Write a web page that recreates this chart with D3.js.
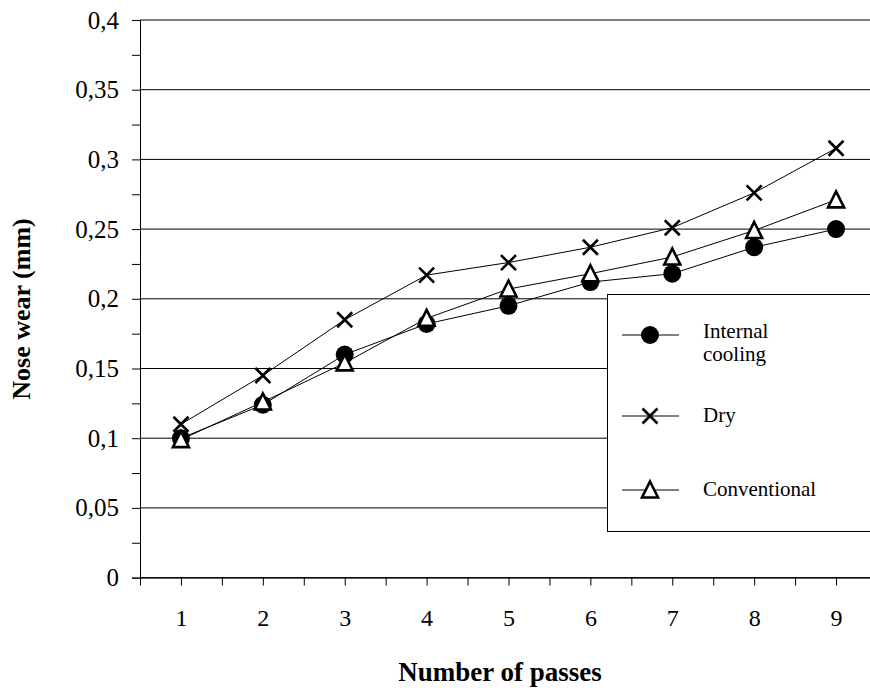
<!DOCTYPE html>
<html>
<head>
<meta charset="utf-8">
<script src="https://cdn.jsdelivr.net/npm/d3@7"></script>
<style>
  body { margin: 0; background: #fff; }
  svg { display: block; font-family: "Liberation Serif", "Times New Roman", serif; }
</style>
</head>
<body>
<svg id="chart" width="870" height="688"></svg>
<script>
// number of passes (categories)
const passes = [1, 2, 3, 4, 5, 6, 7, 8, 9];

// nose wear (mm)
const internalCooling = [0.100, 0.124, 0.160, 0.182, 0.195, 0.212, 0.218, 0.237, 0.250];
const dry             = [0.110, 0.145, 0.185, 0.217, 0.226, 0.237, 0.251, 0.276, 0.308];
const conventional    = [0.099, 0.126, 0.154, 0.186, 0.207, 0.218, 0.230, 0.249, 0.271];

// y axis ticks
const yTickValues = [0, 0.05, 0.1, 0.15, 0.2, 0.25, 0.3, 0.35, 0.4];
const yTickLabels = ['0', '0,05', '0,1', '0,15', '0,2', '0,25', '0,3', '0,35', '0,4'];
const yMinorValues = [0.025, 0.075, 0.125, 0.175, 0.225, 0.275, 0.325, 0.375];

const series = [
  { name: ['Internal', 'cooling'], values: internalCooling, marker: 'circle' },
  { name: ['Dry'], values: dry, marker: 'cross' },
  { name: ['Conventional'], values: conventional, marker: 'triangle' }
];

const svg = d3.select('#chart');

// plot frame
const plotLeft = 140, plotTop = 20, plotBottom = 577.6, plotRight = 877;

// x: linear over half-steps so ticks fall on centres and band edges
const x = d3.scaleLinear().domain([0.5, 9.5]).range([plotLeft, plotRight]);
const y = d3.scaleLinear().domain([0, 0.4]).range([plotBottom, plotTop]);

// horizontal gridlines
svg.append('g')
  .selectAll('line')
  .data(yTickValues)
  .join('line')
    .attr('x1', plotLeft).attr('x2', plotRight)
    .attr('y1', d => y(d)).attr('y2', d => y(d))
    .attr('stroke', '#000').attr('stroke-width', 1);

// y axis
const yAxis = svg.append('g')
  .attr('transform', `translate(${plotLeft},0)`)
  .call(d3.axisLeft(y)
    .tickValues(yTickValues.concat(yMinorValues))
    .tickSize(8)
    .tickPadding(13)
    .tickFormat(d => {
      const i = yTickValues.findIndex(v => Math.abs(v - d) < 1e-9);
      return i >= 0 ? yTickLabels[i] : '';
    }));
yAxis.select('.domain').attr('stroke', '#000');
yAxis.selectAll('text')
  .attr('font-family', '"Liberation Serif", "Times New Roman", serif')
  .attr('font-size', 25).attr('fill', '#000');

// x axis: ticks at every category and every category boundary
const xTicks = d3.range(0.5, 9.5, 0.5);
const xAxis = svg.append('g')
  .attr('transform', `translate(0,${plotBottom})`)
  .call(d3.axisBottom(x)
    .tickValues(xTicks)
    .tickSize(8)
    .tickPadding(0)
    .tickSizeOuter(0)
    .tickFormat(d => passes.includes(d) ? d : ''));
xAxis.select('.domain').attr('stroke', '#000');
xAxis.selectAll('text')
  .attr('font-family', '"Liberation Serif", "Times New Roman", serif')
  .attr('font-size', 24).attr('fill', '#000')
  .attr('dy', null)
  .attr('y', 48.5);

// marker drawing helper
function drawMarker(sel, type) {
  if (type === 'circle') {
    sel.append('circle').attr('r', 9).attr('fill', '#000');
  } else if (type === 'cross') {
    sel.append('path')
      .attr('d', 'M-7.5,-7.5L7.5,7.5M-7.5,7.5L7.5,-7.5')
      .attr('stroke', '#000').attr('stroke-width', 2.6).attr('fill', 'none');
  } else {
    sel.append('path')
      .attr('d', 'M0,-8.5L8,7.5L-8,7.5Z')
      .attr('stroke', '#000').attr('stroke-width', 2.6)
      .attr('stroke-linejoin', 'miter')
      .attr('fill', '#fff');
  }
}

const line = d3.line()
  .x((d, i) => x(passes[i]))
  .y(d => y(d));

// series: line then markers, in Excel order
series.forEach(s => {
  svg.append('path')
    .datum(s.values)
    .attr('d', line)
    .attr('fill', 'none')
    .attr('stroke', '#000')
    .attr('stroke-width', 1);

  svg.append('g')
    .selectAll('g')
    .data(s.values)
    .join('g')
      .attr('transform', (d, i) => `translate(${x(passes[i])},${y(d)})`)
      .each(function () { drawMarker(d3.select(this), s.marker); });
});

// legend
const legend = svg.append('g');
legend.append('rect')
  .attr('x', 607.5).attr('y', 294.5)
  .attr('width', 300).attr('height', 237)
  .attr('fill', '#fff').attr('stroke', '#000').attr('stroke-width', 1);

const legendRows = [335, 416, 490];
series.forEach((s, i) => {
  const row = legend.append('g').attr('transform', `translate(0,${legendRows[i]})`);
  row.append('line')
    .attr('x1', 622).attr('x2', 679)
    .attr('y1', 0).attr('y2', 0)
    .attr('stroke', '#000').attr('stroke-width', 1);
  const m = row.append('g').attr('transform', 'translate(650,0)');
  drawMarker(m, s.marker);
  const text = row.append('text')
    .attr('x', 703)
    .attr('font-size', 21)
    .attr('fill', '#000');
  if (s.name.length === 2) {
    text.append('tspan').attr('x', 703).attr('y', 3).text(s.name[0]);
    text.append('tspan').attr('x', 703).attr('y', 26).text(s.name[1]);
  } else {
    text.attr('y', 6).text(s.name[0]);
  }
});

// axis titles
svg.append('text')
  .attr('x', 500)
  .attr('y', 681)
  .attr('text-anchor', 'middle')
  .attr('font-weight', 'bold')
  .attr('font-size', 27)
  .text('Number of passes');

svg.append('text')
  .attr('transform', 'translate(30,309) rotate(-90)')
  .attr('text-anchor', 'middle')
  .attr('font-weight', 'bold')
  .attr('font-size', 26)
  .text('Nose wear (mm)');
</script>
</body>
</html>
